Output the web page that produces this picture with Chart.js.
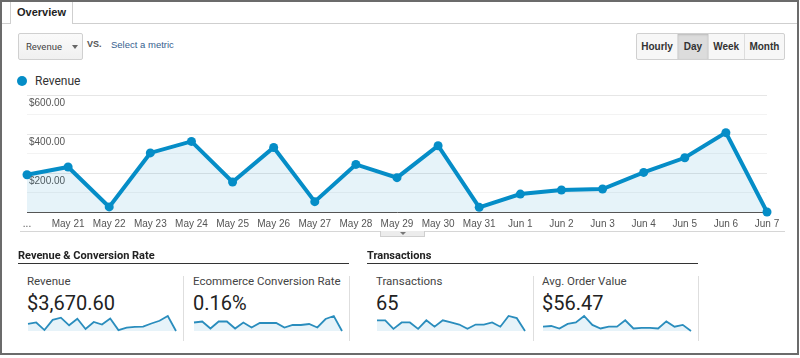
<!DOCTYPE html>
<html>
<head>
<meta charset="utf-8">
<title>Overview</title>
<script src="https://cdn.jsdelivr.net/npm/chart.js@4.4.0/dist/chart.umd.min.js"></script>
<style>
  html, body { margin:0; padding:0; background:#fff; }
  body { width:800px; height:358px; position:relative; overflow:hidden; font-family:"Liberation Sans", Arial, sans-serif; color:#333; }
  .abs { position:absolute; }
  #frame { left:0; top:0; width:795px; height:351px; border:2px solid #6b6b6b; }
  #tabline { left:2px; top:23px; width:795px; height:1px; background:#cfcfcf; }
  #tab { left:10px; top:2px; width:61px; height:22px; border-left:1px solid #cfcfcf; border-right:1px solid #cfcfcf; background:#fff; font-weight:bold; font-size:11px; line-height:20px; text-align:center; color:#222; }
  #metric { left:18px; top:33px; width:63px; height:25px; border:1px solid #d0d0d0; border-radius:2px; background:linear-gradient(#fafafa,#f0f0f0); font-family:Roboto, sans-serif; font-size:9.5px; line-height:25px; color:#444; }
  #metric span { position:absolute; left:7px; }
  #metric i { position:absolute; left:53px; top:11px; width:0; height:0; border-left:3px solid transparent; border-right:3px solid transparent; border-top:4px solid #666; }
  #vs { left:87px; top:39px; font-size:9px; font-weight:bold; color:#555; }
  #select { left:111px; top:39px; font-size:9.5px; color:#36618f; }
  #range { left:636px; top:33px; width:147px; height:25px; border:1px solid #d0d0d0; border-radius:2px; background:#f7f7f7; display:flex; font-size:10px; font-weight:bold; color:#333; }
  #range div { height:25px; line-height:25px; text-align:center; border-left:1px solid #ddd; }
  #range div:first-child { border-left:none; }
  #range .on { background:#dcdcdc; box-shadow:inset 0 1px 2px #bbb; }
  #legend { left:17px; top:74px; font-family:Roboto, sans-serif; font-size:12px; color:#333; line-height:14px; }
  #legend b { position:absolute; left:0; top:2px; width:10px; height:10px; border-radius:50%; background:#058dc7; }
  #legend span { position:absolute; left:18px; top:0; white-space:nowrap; }
  #main { left:0; top:85px; }
  #fold { left:20px; top:231px; width:765px; height:1px; background:#d6d6d6; }
  #handle { left:380px; top:231px; width:43px; height:5px; border:1px solid #cfcfcf; border-top:none; background:#ececec; }
  #handle i { position:absolute; left:19px; top:1px; width:0; height:0; border-left:3px solid transparent; border-right:3px solid transparent; border-top:3px solid #777; }
  .head { top:249px; font-family:Roboto, sans-serif; font-weight:bold; font-size:11px; line-height:13px; color:#222; padding-bottom:1px; border-bottom:1px solid #333; }
  .lbl { top:274px; font-family:Roboto, sans-serif; font-size:11.5px; line-height:14px; color:#444; white-space:nowrap; }
  .val { top:292px; font-family:Roboto, sans-serif; font-size:20px; line-height:23px; color:#222; white-space:nowrap; }
  .sep { top:276px; width:1px; height:65px; background:#dedede; }
</style>
</head>
<body>
<div id="frame" class="abs"></div>
<div id="tabline" class="abs"></div>
<div id="tab" class="abs">Overview</div>
<div id="metric" class="abs"><span>Revenue</span><i></i></div>
<div id="vs" class="abs">VS.</div>
<div id="select" class="abs">Select a metric</div>
<div id="range" class="abs"></div>
<div id="legend" class="abs"><b></b><span>Revenue</span></div>
<canvas id="main" class="abs" width="800" height="153"></canvas>
<div id="fold" class="abs"></div>
<div id="handle" class="abs"><i></i></div>
<div id="bottom"></div>
<script>
// daily revenue, May 20 - Jun 7
var dayLabels = ['...', 'May 21', 'May 22', 'May 23', 'May 24', 'May 25', 'May 26', 'May 27', 'May 28', 'May 29',
                 'May 30', 'May 31', 'Jun 1', 'Jun 2', 'Jun 3', 'Jun 4', 'Jun 5', 'Jun 6', 'Jun 7'];
var revenue = [191, 231, 26, 303, 362, 154, 331, 53, 244, 176, 340, 24, 92, 113, 118, 203, 278, 407, 0];
var conversionRate = [0.17, 0.19, 0.05, 0.19, 0.19, 0.05, 0.17, 0.07, 0.16, 0.16, 0.16, 0.07, 0.12, 0.12, 0.14, 0.07, 0.24, 0.30, 0];
var transactions = [5, 5, 1, 4, 4, 1, 5, 2, 5, 4, 3, 1, 3, 3, 4, 2, 7, 6, 0];
var avgOrderValue = [43, 50, 25, 71, 86, 150, 61, 25, 43, 43, 107, 25, 32, 32, 25, 96, 43, 61, 0];
var revenueTicks = [0, 100, 200, 300, 400, 500, 600];

var rangeNames = ['Hourly', 'Day', 'Week', 'Month'];
var rangeWidths = [41, 30, 36, 40];
var groupNames = ['Revenue & Conversion Rate', 'Transactions'];
var summaryLabels = ['Revenue', 'Ecommerce Conversion Rate', 'Transactions', 'Avg. Order Value'];
var summaryValues = ['$3,670.60', '0.16%', '65', '$56.47'];
var summarySeries = [revenue, conversionRate, transactions, avgOrderValue];

var lineBlue = '#058dc7';
var fillBlue = 'rgba(5,141,199,0.1)';

// period buttons
var range = document.getElementById('range');
rangeNames.forEach(function(n, i){
    var d = document.createElement('div');
    d.textContent = n;
    d.style.width = rangeWidths[i] + 'px';
    if(n == 'Day') d.className = 'on';
    range.appendChild(d);
});

// scorecards
var bottom = document.getElementById('bottom');
var headX = [18, 367], headW = [331, 331];
groupNames.forEach(function(g, i){
    var h = document.createElement('div');
    h.className = 'abs head';
    h.style.left = headX[i] + 'px';
    h.style.width = headW[i] + 'px';
    h.textContent = g;
    bottom.appendChild(h);
});
var cardX = [27, 193, 376, 542];
var sepX = [183, 349, 533, 698];
summaryLabels.forEach(function(l, i){
    var a = document.createElement('div');
    a.className = 'abs lbl';
    a.style.left = cardX[i] + 'px';
    a.textContent = l;
    bottom.appendChild(a);
    var v = document.createElement('div');
    v.className = 'abs val';
    v.style.left = cardX[i] + 'px';
    v.textContent = summaryValues[i];
    bottom.appendChild(v);
    var s = document.createElement('div');
    s.className = 'abs sep';
    s.style.left = sepX[i] + 'px';
    bottom.appendChild(s);
    var c = document.createElement('canvas');
    c.className = 'abs';
    c.id = 'spark' + i;
    c.width = 150;
    c.height = 19;
    c.style.left = (cardX[i]) + 'px';
    c.style.top = '314px';
    bottom.appendChild(c);
    sparkline(c, summarySeries[i]);
});

function sparkline(canvas, values){
    new Chart(canvas, {
        type: 'line',
        data: {
            labels: dayLabels,
            datasets: [{
                data: values,
                borderColor: '#2a8dbd',
                backgroundColor: '#e7f3f9',
                borderWidth: 1.8,
                pointRadius: 0,
                fill: 'origin',
                tension: 0,
                clip: false
            }]
        },
        options: {
            responsive: false,
            animation: false,
            devicePixelRatio: 1,
            layout: { padding: { top: 2, bottom: 2, left: 1, right: 1 } },
            plugins: { legend: { display: false }, tooltip: { enabled: false } },
            scales: {
                x: { display: false },
                y: { display: false, min: 0, max: Math.max.apply(null, values) }
            }
        }
    });
}

// main revenue chart
new Chart(document.getElementById('main'), {
    type: 'line',
    data: {
        labels: dayLabels,
        datasets: [{
            label: 'Revenue',
            data: revenue,
            borderColor: lineBlue,
            backgroundColor: fillBlue,
            borderWidth: 4,
            pointRadius: 4.5,
            pointHoverRadius: 4.5,
            pointBackgroundColor: lineBlue,
            pointBorderWidth: 0,
            fill: 'origin',
            tension: 0,
            clip: false
        }]
    },
    options: {
        responsive: false,
        animation: false,
        devicePixelRatio: 1,
        layout: { padding: { left: 23, right: 33, top: 10, bottom: 2 } },
        plugins: { legend: { display: false }, tooltip: { enabled: false } },
        scales: {
            x: {
                grid: { display: false, drawTicks: false },
                border: { display: true, color: '#555', width: 1 },
                ticks: {
                    autoSkip: false, maxRotation: 0, padding: 6, color: '#555',
                    font: { family: 'Liberation Sans', size: 10 }
                }
            },
            y: {
                min: revenueTicks[0],
                max: revenueTicks[revenueTicks.length - 1],
                grid: {
                    drawTicks: false,
                    color: function(c){ return c.tick && c.tick.value % 200 == 0 ? '#e6e6e6' : '#f3f3f3'; }
                },
                border: { display: false },
                ticks: {
                    stepSize: revenueTicks[1] - revenueTicks[0],
                    autoSkip: false,
                    mirror: true, padding: 2, labelOffset: 8, color: '#555',
                    font: { family: 'Liberation Sans', size: 10 },
                    callback: function(v){ return (v > 0 && v % 200 == 0) ? '$' + v.toFixed(2) : ''; }
                }
            }
        }
    }
});
</script>
</body>
</html>
